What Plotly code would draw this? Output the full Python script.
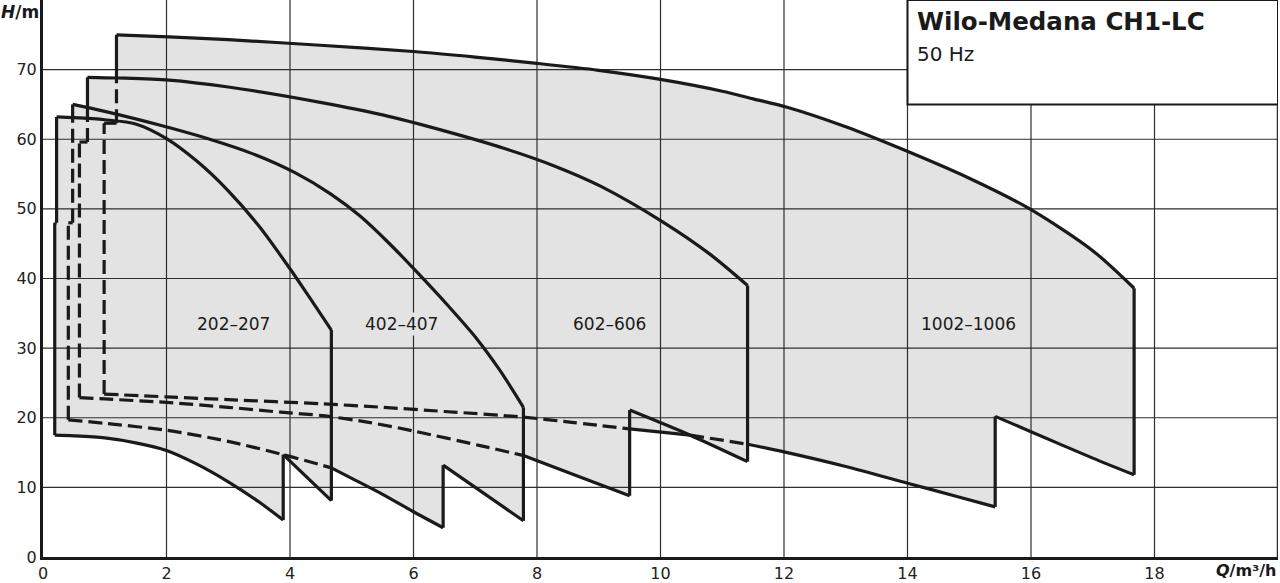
import plotly.graph_objects as go

# ---------------- data ----------------
series_names = ["202–207", "402–407", "602–606", "1002–1006"]
label_q = [3.09, 5.80, 9.17, 14.98]
label_h = [33.5, 33.5, 33.5, 33.5]

# 202-207
q202_left = [0.19, 0.19, 0.22, 0.22]
h202_left = [17.5, 48.0, 48.0, 63.2]
q202_top = [0.22, 0.5, 1.0, 1.5, 2.0, 2.5, 3.0, 3.5, 4.0, 4.3, 4.67]
h202_top = [63.2, 63.1, 62.8, 62.2, 60.1, 56.8, 52.6, 47.5, 41.4, 37.5, 32.6]
q202_bot = [0.19, 0.5, 1.0, 1.5, 2.0, 2.5, 3.0, 3.5, 3.89, 3.89, 4.67]
h202_bot = [17.5, 17.4, 17.1, 16.4, 15.3, 13.3, 10.8, 7.9, 5.3, 14.7, 8.1]

# 402-407
q402_left = [0.41, 0.41, 0.48, 0.48, 0.48]
h402_left = [19.7, 48.0, 48.0, 63.1, 65.0]
q402_top = [0.48, 1.0, 1.9, 2.7, 3.4, 4.08, 4.65, 5.13, 5.6, 6.08, 6.55, 7.02, 7.4, 7.78]
h402_top = [65.0, 64.0, 62.0, 60.0, 57.9, 55.2, 52.2, 49.0, 45.1, 40.7, 36.2, 31.4, 26.8, 21.5]
q402_bot = [0.41, 1.0, 2.0, 3.0, 3.89, 4.67, 5.0, 5.5, 6.0, 6.48, 6.48, 7.0, 7.78]
h402_bot = [19.7, 19.2, 18.2, 16.6, 14.7, 12.8, 11.3, 9.0, 6.5, 4.2, 13.2, 10.0, 5.2]

# 602-606
q602_left = [0.59, 0.59, 0.72, 0.72, 0.72]
h602_left = [22.9, 59.6, 59.6, 64.6, 68.9]
q602_top = [0.72, 1.2, 2.04, 3.0, 4.49, 5.5, 6.5, 7.5, 8.3, 9.02, 10.06, 10.8, 11.41]
h602_top = [68.9, 68.8, 68.5, 67.5, 65.3, 63.5, 61.2, 58.6, 56.1, 53.3, 48.0, 43.5, 39.0]
q602_bot = [0.59, 1.0, 2.0, 3.0, 3.85, 4.53, 5.3, 6.0, 7.08, 7.77, 8.6, 9.5, 9.5, 10.48, 11.41]
h602_bot = [22.9, 22.7, 22.2, 21.5, 20.8, 20.3, 19.3, 18.1, 16.0, 14.6, 11.8, 8.8, 21.1, 17.5, 13.7]

# 1002-1006
q1002_left = [0.99, 0.99, 1.19, 1.19, 1.19]
h1002_left = [23.4, 62.3, 62.3, 68.8, 75.0]
q1002_top = [1.19, 2.04, 3.0, 4.49, 6.0, 7.0, 8.0, 9.0, 10.0, 11.0, 11.5, 12.05, 13.0, 13.88, 15.0, 16.0, 17.0, 17.67]
h1002_top = [75.0, 74.7, 74.3, 73.5, 72.6, 71.8, 70.9, 69.9, 68.6, 66.9, 65.8, 64.6, 61.8, 58.7, 54.4, 49.9, 44.0, 38.6]
q1002_bot = [0.99, 2.0, 3.0, 4.53, 5.5, 6.5, 7.77, 8.6, 9.5, 10.48, 11.41, 12.0, 13.0, 14.0, 14.8, 15.42, 15.42, 16.0, 17.0, 17.67]
h1002_bot = [23.4, 23.0, 22.6, 22.0, 21.5, 20.9, 20.1, 19.3, 18.4, 17.5, 16.2, 15.1, 13.0, 10.6, 8.7, 7.2, 20.2, 18.0, 14.2, 11.8]

# parts of each outline lying inside a smaller range are dashed
left_dash_below = [None, 63.1, 64.6, 68.8]
bottom_dash_ranges = [[], [(0.41, 4.67)], [(0.59, 7.77)], [(0.99, 9.5), (10.48, 11.41)]]

grid_q = [2, 4, 6, 8, 10, 12, 14, 16, 18]
grid_h = [10, 20, 30, 40, 50, 60, 70]
x_ticks = [0, 2, 4, 6, 8, 10, 12, 14, 16, 18]
y_ticks = [0, 10, 20, 30, 40, 50, 60, 70]
x_range = [0, 20]
y_range = [0, 80]
box_q = [14, 20]
box_h = [65, 80]

title_text = "Wilo-Medana CH1-LC"
subtitle_text = "50 Hz"

# ---------------- figure ----------------
series = [
    (q202_left, h202_left, q202_top, h202_top, q202_bot, h202_bot),
    (q402_left, h402_left, q402_top, h402_top, q402_bot, h402_bot),
    (q602_left, h602_left, q602_top, h602_top, q602_bot, h602_bot),
    (q1002_left, h1002_left, q1002_top, h1002_top, q1002_bot, h1002_bot),
]

FILL = "#e3e3e3"
INK = "#1a1a1a"
GRID = "#2e2e2e"
LW = 3.2
DASH = "14px,6px"
FONT = "DejaVu Sans"

fig = go.Figure()

# fills
for ql, hl, qt, ht, qb, hb in series:
    xs = ql + qt[1:] + qb[::-1]
    ys = hl + ht[1:] + hb[::-1]
    fig.add_trace(go.Scatter(x=xs, y=ys, fill="toself", fillcolor=FILL, mode="lines",
                             line=dict(width=0, color=FILL), hoverinfo="skip", showlegend=False))

# grid lines (above fill)
gx, gy = [], []
for q in grid_q:
    gx += [q, q, None]
    gy += [y_range[0], y_range[1], None]
for h in grid_h:
    gx += [x_range[0], x_range[1], None]
    gy += [h, h, None]
fig.add_trace(go.Scatter(x=gx, y=gy, mode="lines", line=dict(color=GRID, width=1.2),
                         hoverinfo="skip", showlegend=False))
fig.add_trace(go.Scatter(x=[x_range[1], x_range[1]], y=y_range, mode="lines",
                         line=dict(color=GRID, width=2.5), hoverinfo="skip", showlegend=False))


def add_polyline(xs, ys, dashed, smooth=False):
    fig.add_trace(go.Scatter(x=xs, y=ys, mode="lines",
                             line=dict(color=INK, width=LW, dash=DASH if dashed else "solid",
                                       shape="spline" if smooth and len(xs) > 2 else "linear",
                                       smoothing=0.8),
                             hoverinfo="skip", showlegend=False))


def draw_segments(xs, ys, flags, smooth=False):
    # split into runs of same style; vertical steps are kept straight
    kinds = []
    for i in range(len(flags)):
        vertical = xs[i] == xs[i + 1]
        kinds.append((flags[i], vertical))
    start = 0
    for i in range(1, len(kinds) + 1):
        if i == len(kinds) or kinds[i] != kinds[start]:
            add_polyline(xs[start:i + 1], ys[start:i + 1], kinds[start][0],
                         smooth and not kinds[start][1])
            start = i


for k, (ql, hl, qt, ht, qb, hb) in enumerate(series):
    thr = left_dash_below[k]
    lflags = []
    for i in range(len(ql) - 1):
        mid = (hl[i] + hl[i + 1]) / 2
        lflags.append(thr is not None and mid < thr)
    draw_segments(ql, hl, lflags)
    add_polyline(qt, ht, False, smooth=True)
    add_polyline([qt[-1], qb[-1]], [ht[-1], hb[-1]], False)
    bflags = []
    for i in range(len(qb) - 1):
        mid = (qb[i] + qb[i + 1]) / 2
        bflags.append(any(a <= mid <= b for a, b in bottom_dash_ranges[k]))
    draw_segments(qb, hb, bflags, smooth=True)

# series labels
for name, xq, yh in zip(series_names, label_q, label_h):
    fig.add_annotation(x=xq, y=yh, text=name, showarrow=False, bgcolor=FILL,
                       font=dict(family=FONT, size=17, color=INK))

# title box
fig.add_shape(type="rect", x0=box_q[0], x1=box_q[1], y0=box_h[0], y1=box_h[1], xref="x", yref="y",
              fillcolor="white", line=dict(color=INK, width=2), layer="above")
fig.add_annotation(x=box_q[0], y=76.9, xanchor="left", xshift=7, text="<b>" + title_text + "</b>",
                   showarrow=False, font=dict(family=FONT, size=24.5, color=INK))
fig.add_annotation(x=box_q[0], y=72.2, xanchor="left", xshift=7, text=subtitle_text,
                   showarrow=False, font=dict(family=FONT, size=20, color=INK))

# axis titles
fig.add_annotation(xref="paper", yref="paper", x=0, y=1, xanchor="right", yanchor="top",
                   xshift=-2, yshift=0, text="<b><i>H</i>/m</b>", showarrow=False,
                   font=dict(family=FONT, size=17, color=INK))
fig.add_annotation(xref="paper", yref="paper", x=1, y=0, xanchor="right", yanchor="top",
                   yshift=-2, text="<b><i>Q</i>/m³/h</b>", showarrow=False,
                   font=dict(family=FONT, size=16, color=INK))

fig.update_layout(
    width=1280, height=583,
    margin=dict(l=43, r=2, t=0, b=26, autoexpand=False),
    paper_bgcolor="white", plot_bgcolor="white",
    showlegend=False,
    xaxis=dict(range=x_range, tickvals=x_ticks, ticktext=[str(v) for v in x_ticks],
               showgrid=False, zeroline=False, showline=True, linecolor=INK, linewidth=3,
               ticks="", automargin=False, tickfont=dict(family=FONT, size=16, color="#222")),
    yaxis=dict(range=y_range, tickvals=y_ticks, ticktext=[str(v) for v in y_ticks],
               showgrid=False, zeroline=False, showline=True, linecolor=INK, linewidth=3,
               ticks="", automargin=False, tickfont=dict(family=FONT, size=16, color="#222")),
)

fig.write_html("out.html", config={"displayModeBar": False},
               post_script="document.body.style.margin='0px';")
